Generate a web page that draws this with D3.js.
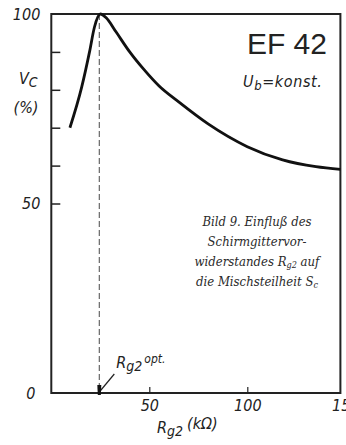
<!DOCTYPE html>
<html>
<head>
<meta charset="utf-8">
<script src="https://cdn.jsdelivr.net/npm/d3@7"></script>
<style>
  body { margin: 0; background: #fff; }
  svg { display: block; }
  .num { font-family: 'DejaVu Sans Condensed', 'Liberation Sans Narrow', sans-serif; font-style: italic; font-size: 16px; fill: #222; }
  .cap { font-family: 'DejaVu Serif Condensed', 'DejaVu Serif', serif; font-style: italic; font-size: 13px; fill: #2a2a2a; }
</style>
</head>
<body>
<div id="chart"></div>
<script>
// Rg2 in kOhm, Vc in %
const rg2 = [9.5, 15.5, 19.5, 22, 25, 28, 33, 40, 47, 55, 65, 80, 100, 118, 135, 147.5];
const vc = [70, 80.7, 90, 96.5, 100, 99, 95.3, 90, 85.5, 81, 76.8, 71, 65, 61.5, 59.7, 59];
const rg2Opt = 24.5;
const yLabelTicks = [0, 50, 100];
const yMinorTicks = [50, 60, 70, 80, 90];
const xLabelTicks = [50, 100, 150];
const xMinorTicks = [50, 100];
const captionLines = ['Bild 9. Einfluß des', 'Schirmgittervor-', 'widerstandes R|g2| auf', 'die Mischsteilheit S|c|'];

const W = 346, H = 445;
const svg = d3.select('#chart').append('svg').attr('width', W).attr('height', H);

const x = d3.scaleLinear().domain([0, 150]).range([51.3, 345.3]);
const y = d3.scaleLinear().domain([0, 100]).range([393, 14]);
const xEnd = 147.5;

// frame
svg.append('path')
  .attr('d', `M${x(0)},${y(100)} H${x(xEnd)} V${y(0)} H${x(0)} Z`)
  .attr('fill', 'none').attr('stroke', '#222').attr('stroke-width', 2);

// inward ticks
const yt = svg.append('g').attr('transform', `translate(${x(0)},0)`)
  .call(d3.axisRight(y).tickValues(yMinorTicks).tickSize(9).tickFormat(''));
yt.select('.domain').remove();
yt.selectAll('line').attr('stroke', '#222').attr('stroke-width', 1.5);

const xt = svg.append('g').attr('transform', `translate(0,${y(0)})`)
  .call(d3.axisTop(x).tickValues(xMinorTicks).tickSize(6).tickFormat(''));
xt.select('.domain').remove();
xt.selectAll('line').attr('stroke', '#222').attr('stroke-width', 1.2);

// tick labels
const yl = svg.append('g').attr('transform', `translate(${x(0) - 8},0)`)
  .call(d3.axisLeft(y).tickValues(yLabelTicks).tickSize(0));
yl.select('.domain').remove();
yl.selectAll('text').attr('class', 'num').attr('font-size', null).attr('font-family', null);
yl.selectAll('.tick').filter(d => d === 0).select('text').attr('dx', '-5');

const xl = svg.append('g').attr('transform', `translate(0,${y(0) + 4})`)
  .call(d3.axisBottom(x).tickValues(xLabelTicks).tickSize(0));
xl.select('.domain').remove();
xl.selectAll('text').attr('class', 'num').attr('font-size', null).attr('font-family', null);

// dashed optimum line
svg.append('line')
  .attr('x1', x(rg2Opt)).attr('x2', x(rg2Opt))
  .attr('y1', y(100)).attr('y2', y(0))
  .attr('stroke', '#666').attr('stroke-width', 1.2).attr('stroke-dasharray', '6,3');

// curve
const pts = rg2.map((r, i) => [r, vc[i]]);
svg.append('path')
  .datum(pts)
  .attr('d', d3.line().x(d => x(d[0])).y(d => y(d[1])).curve(d3.curveMonotoneX))
  .attr('fill', 'none').attr('stroke', '#111').attr('stroke-width', 2.8)
  .attr('stroke-linejoin', 'round');

// Rg2 opt pointer
const px = x(rg2Opt), py = y(0);
svg.append('path')
  .attr('d', `M${px},${py - 1} L${px + 15},${py - 19}`)
  .attr('stroke', '#222').attr('stroke-width', 1.2);
svg.append('path')
  .attr('d', `M${px - 2},${py - 8} L${px + 2},${py - 8} L${px + 1.5},${py + 2} L${px - 1.5},${py + 2} Z`)
  .attr('fill', '#111');
const opt = svg.append('text').attr('class', 'num').attr('x', px + 17).attr('y', py - 25).attr('font-size', 17);
opt.append('tspan').text('R');
opt.append('tspan').attr('font-size', 14).attr('dy', 3).text('g2');
opt.append('tspan').attr('font-size', 12).attr('dy', -8).attr('dx', 2).text('opt.');

// y title
const vt = svg.append('text').attr('class', 'num').attr('x', 19).attr('y', 84).attr('font-size', 18);
vt.append('tspan').text('V');
vt.append('tspan').attr('font-size', 14).attr('dy', 3).text('C');
svg.append('text').attr('class', 'num').attr('x', 26).attr('y', 113).attr('text-anchor', 'middle')
  .attr('font-size', 17).text('(%)');

// x title
const xtt = svg.append('text').attr('class', 'num').attr('x', 157).attr('y', 433).attr('font-size', 18);
xtt.append('tspan').text('R');
xtt.append('tspan').attr('font-size', 14).attr('dy', 3).text('g2');
xtt.append('tspan').attr('font-size', 16).attr('dy', -7).attr('dx', 4).text('(kΩ)');

// type label
svg.append('text').attr('x', 327).attr('y', 54).attr('text-anchor', 'end')
  .attr('font-family', "'Liberation Sans', Arial, sans-serif").attr('font-size', 30).attr('fill', '#222')
  .text('EF 42');
const ub = svg.append('text').attr('class', 'num').attr('x', 243).attr('y', 87).attr('font-size', 17)
  .attr('fill', '#555').attr('letter-spacing', 0.6);
ub.append('tspan').text('U');
ub.append('tspan').attr('font-size', 13).attr('dy', 3).text('b');
ub.append('tspan').attr('dy', -3).text('=konst.');

// caption
const cap = svg.append('g');
captionLines.forEach((line, i) => {
  const t = cap.append('text').attr('class', 'cap').attr('x', 257).attr('y', 226 + i * 20).attr('text-anchor', 'middle');
  line.split('|').forEach((part, j) => {
    if (j % 2 === 1) {
      t.append('tspan').attr('font-size', 9).attr('dy', 2).text(part);
    } else {
      t.append('tspan').attr('dy', j > 0 ? -2 : 0).text(part);
    }
  });
});
</script>
</body>
</html>
